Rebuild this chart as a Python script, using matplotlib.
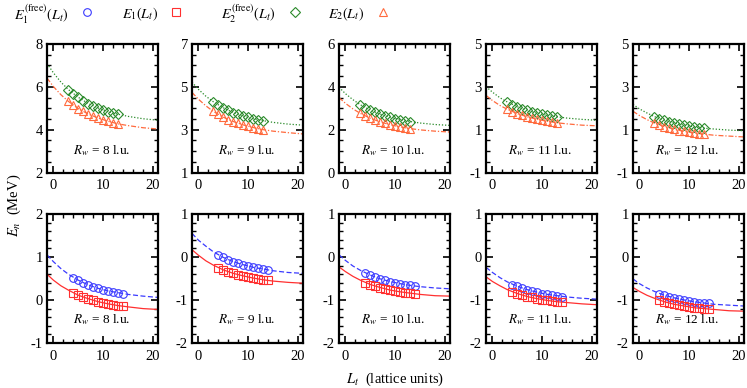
import matplotlib
matplotlib.use("Agg")
import matplotlib.pyplot as plt
from matplotlib.lines import Line2D
from matplotlib.ticker import MultipleLocator

plt.rcParams['font.family'] = ['Liberation Serif', 'DejaVu Serif']
plt.rcParams['mathtext.fontset'] = 'stix'
plt.rcParams['axes.unicode_minus'] = False

# ---------------- data ----------------
Rw = [8, 9, 10, 11, 12]
L_fit = [-1.3, 0, 1.5, 3, 5, 7, 9, 11, 13, 15, 18, 21]
L_top = [3, 4, 5, 6, 7, 8, 9, 10, 11, 12, 13]
L_bot = [4, 5, 6, 7, 8, 9, 10, 11, 12, 13, 14]

# E2 free (green diamonds + dotted fit)
E2free_fit = [
    [7.09, 6.65, 6.22, 5.87, 5.51, 5.22, 5.01, 4.84, 4.72, 4.62, 4.51, 4.44],
    [5.22, 4.88, 4.56, 4.30, 4.02, 3.80, 3.64, 3.51, 3.42, 3.34, 3.26, 3.21],
    [3.98, 3.68, 3.40, 3.16, 2.91, 2.72, 2.58, 2.47, 2.38, 2.31, 2.24, 2.20],
    [3.01, 2.75, 2.49, 2.29, 2.07, 1.90, 1.77, 1.67, 1.60, 1.54, 1.48, 1.44],
    [2.18, 1.97, 1.78, 1.61, 1.44, 1.31, 1.21, 1.13, 1.07, 1.03, 0.98, 0.95],
]
E2free_pts = [
    [5.87, 5.68, 5.51, 5.35, 5.22, 5.11, 5.01, 4.92, 4.84, 4.77, 4.72],
    [4.30, 4.15, 4.02, 3.90, 3.80, 3.71, 3.64, 3.57, 3.51, 3.46, 3.42],
    [3.16, 3.03, 2.91, 2.81, 2.72, 2.64, 2.58, 2.52, 2.47, 2.42, 2.38],
    [2.29, 2.17, 2.07, 1.98, 1.90, 1.83, 1.77, 1.72, 1.67, 1.63, 1.60],
    [1.61, 1.52, 1.44, 1.37, 1.31, 1.26, 1.21, 1.17, 1.13, 1.10, 1.07],
]
# E2 (orange triangles + dash-dot fit)
E2_fit = [
    [6.41, 6.01, 5.63, 5.32, 4.98, 4.73, 4.54, 4.39, 4.27, 4.19, 4.09, 4.03],
    [4.74, 4.42, 4.11, 3.85, 3.58, 3.38, 3.22, 3.10, 3.00, 2.93, 2.86, 2.80],
    [3.50, 3.23, 2.97, 2.76, 2.53, 2.36, 2.23, 2.13, 2.05, 1.99, 1.93, 1.89],
    [2.60, 2.36, 2.13, 1.95, 1.75, 1.60, 1.48, 1.39, 1.32, 1.27, 1.21, 1.18],
    [1.86, 1.66, 1.47, 1.31, 1.14, 1.02, 0.92, 0.84, 0.79, 0.74, 0.70, 0.66],
]
E2_pts = [
    [5.32, 5.14, 4.98, 4.85, 4.73, 4.63, 4.54, 4.46, 4.39, 4.33, 4.27],
    [3.85, 3.71, 3.58, 3.47, 3.38, 3.29, 3.22, 3.15, 3.10, 3.05, 3.00],
    [2.76, 2.64, 2.53, 2.44, 2.36, 2.29, 2.23, 2.18, 2.13, 2.09, 2.05],
    [1.95, 1.84, 1.75, 1.67, 1.60, 1.53, 1.48, 1.43, 1.39, 1.36, 1.32],
    [1.31, 1.22, 1.14, 1.08, 1.02, 0.96, 0.92, 0.88, 0.84, 0.81, 0.79],
]
# E1 free (blue circles + dashed fit)
E1free_fit = [
    [1.05, 0.89, 0.73, 0.60, 0.46, 0.35, 0.27, 0.21, 0.17, 0.13, 0.09, 0.06],
    [0.55, 0.39, 0.25, 0.12, -0.01, -0.11, -0.18, -0.24, -0.28, -0.32, -0.36, -0.38],
    [0.05, -0.08, -0.21, -0.31, -0.42, -0.51, -0.57, -0.62, -0.66, -0.69, -0.72, -0.74],
    [-0.24, -0.36, -0.48, -0.58, -0.68, -0.76, -0.82, -0.87, -0.90, -0.93, -0.96, -0.98],
    [-0.51, -0.62, -0.72, -0.80, -0.89, -0.95, -1.00, -1.04, -1.07, -1.10, -1.12, -1.14],
]
E1free_pts = [
    [0.52, 0.46, 0.40, 0.35, 0.31, 0.27, 0.24, 0.21, 0.19, 0.17, 0.15],
    [0.05, -0.01, -0.06, -0.11, -0.15, -0.18, -0.21, -0.24, -0.26, -0.28, -0.30],
    [-0.37, -0.42, -0.47, -0.51, -0.54, -0.57, -0.60, -0.62, -0.64, -0.66, -0.67],
    [-0.64, -0.68, -0.73, -0.76, -0.80, -0.82, -0.85, -0.87, -0.89, -0.90, -0.92],
    [-0.85, -0.89, -0.92, -0.95, -0.98, -1.00, -1.02, -1.04, -1.06, -1.07, -1.08],
]
# E1 (red squares + solid fit)
E1_fit = [
    [0.60, 0.46, 0.33, 0.23, 0.11, 0.03, -0.04, -0.09, -0.13, -0.16, -0.20, -0.22],
    [0.17, 0.04, -0.09, -0.19, -0.30, -0.38, -0.44, -0.49, -0.53, -0.56, -0.59, -0.61],
    [-0.23, -0.34, -0.45, -0.54, -0.64, -0.71, -0.77, -0.81, -0.84, -0.87, -0.90, -0.91],
    [-0.46, -0.57, -0.67, -0.76, -0.85, -0.92, -0.97, -1.01, -1.04, -1.06, -1.09, -1.11],
    [-0.71, -0.80, -0.89, -0.96, -1.04, -1.10, -1.14, -1.18, -1.20, -1.22, -1.25, -1.26],
]
E1_pts = [
    [0.16, 0.11, 0.07, 0.03, -0.01, -0.04, -0.07, -0.09, -0.11, -0.13, -0.15],
    [-0.25, -0.30, -0.34, -0.38, -0.41, -0.44, -0.47, -0.49, -0.51, -0.53, -0.54],
    [-0.60, -0.64, -0.68, -0.71, -0.74, -0.77, -0.79, -0.81, -0.83, -0.84, -0.86],
    [-0.81, -0.85, -0.88, -0.92, -0.94, -0.97, -0.99, -1.01, -1.02, -1.04, -1.05],
    [-1.00, -1.04, -1.07, -1.10, -1.12, -1.14, -1.16, -1.18, -1.19, -1.20, -1.22],
]
top_yticks = [[2, 4, 6, 8], [1, 3, 5, 7], [0, 2, 4, 6], [-1, 1, 3, 5], [-1, 1, 3, 5]]
bot_yticks = [[-1, 0, 1, 2], [-2, -1, 0, 1], [-2, -1, 0, 1], [-2, -1, 0, 1], [-2, -1, 0, 1]]
x_ticks = [0, 10, 20]

# ---------------- style ----------------
C_GREEN = '#2a8a2a'
C_ORANGE = '#ff6a3d'
C_BLUE = '#3a3aff'
C_RED = '#ff3030'

W, H = 747, 388
fig = plt.figure(figsize=(W / 100, H / 100), dpi=100)

lefts = [47, 192, 339, 486, 633]
ax_w = 111
top_row = (44, 172.5)
bot_row = (214, 343)


def make_ax(left, row):
    t, b = row
    return fig.add_axes([left / W, 1 - b / H, ax_w / W, (b - t) / H])


def style(ax, yticks, ymin):
    ax.set_xlim(-1.3, 21)
    ax.set_ylim(yticks[0], yticks[-1])
    ax.set_xticks(x_ticks)
    ax.set_yticks(yticks)
    ax.xaxis.set_minor_locator(MultipleLocator(2))
    ax.yaxis.set_minor_locator(MultipleLocator(ymin))
    ax.tick_params(which='both', direction='in', top=True, right=True,
                   labelsize=10.5)
    ax.tick_params(axis='y', pad=3)
    ax.tick_params(axis='x', pad=5)
    ax.tick_params(which='major', length=5, width=1.2)
    ax.tick_params(which='minor', length=2.8, width=1.0)
    for s in ax.spines.values():
        s.set_linewidth(1.6)


mk = dict(markerfacecolor='none', markersize=5.5, markeredgewidth=0.8, linestyle='none')

for i in range(5):
    ax = make_ax(lefts[i], top_row)
    ax.plot(L_fit, E2free_fit[i], color=C_GREEN, lw=0.9, ls=(0, (1, 1.5)))
    ax.plot(L_fit, E2_fit[i], color=C_ORANGE, lw=0.9, ls=(0, (4, 1.5, 1, 1.5)))
    ax.plot(L_top, E2free_pts[i], marker='D', color=C_GREEN, markersize=4.6,
            markerfacecolor='none', markeredgewidth=0.8, linestyle='none')
    ax.plot(L_top, E2_pts[i], marker='^', color=C_ORANGE, markersize=6,
            markerfacecolor='none', markeredgewidth=0.8, linestyle='none')
    style(ax, top_yticks[i], 0.5)
    ax.text(0.49, 0.17, r'$R_w$ = %d l.u.' % Rw[i], transform=ax.transAxes,
            ha='center', va='center', fontsize=9.5)

    ax = make_ax(lefts[i], bot_row)
    ax.plot(L_fit, E1free_fit[i], color=C_BLUE, lw=0.9, ls=(0, (4, 2)))
    ax.plot(L_fit, E1_fit[i], color=C_RED, lw=0.9, ls='-')
    ax.plot(L_bot, E1free_pts[i], marker='o', color=C_BLUE, **mk)
    ax.plot(L_bot, E1_pts[i], marker='s', color=C_RED, **mk)
    style(ax, bot_yticks[i], 0.2)
    ax.text(0.49, 0.18, r'$R_w$ = %d l.u.' % Rw[i], transform=ax.transAxes,
            ha='center', va='center', fontsize=9.5)

# axis labels
fig.text(14 / W, 1 - 205 / H, r'$E_n$  (MeV)', rotation=90, ha='center',
         va='center', fontsize=10.5)
fig.text(395 / W, 1 - 379 / H, r'$L_t$  (lattice units)', ha='center',
         va='center', fontsize=10.5)

# key at the top
key = [
    (r'$E_1^{\rm (free)}(L_t)$', 69, 87, 'o', C_BLUE, 5.5),
    (r'$E_1(L_t)$', 158, 176, 's', C_RED, 5.5),
    (r'$E_2^{\rm (free)}(L_t)$', 276, 295, 'D', C_GREEN, 4.6),
    (r'$E_2(L_t)$', 364, 383, '^', C_ORANGE, 6),
]
for label, xt, xm, m, c, ms in key:
    fig.text(xt / W, 1 - 14 / H, label, ha='right', va='center', fontsize=10.2)
    fig.add_artist(Line2D([xm / W], [1 - 12 / H], marker=m, color=c,
                          markerfacecolor='none', markersize=ms,
                          markeredgewidth=0.8, linestyle='none',
                          transform=fig.transFigure))

fig.savefig('out.png', dpi=100)
